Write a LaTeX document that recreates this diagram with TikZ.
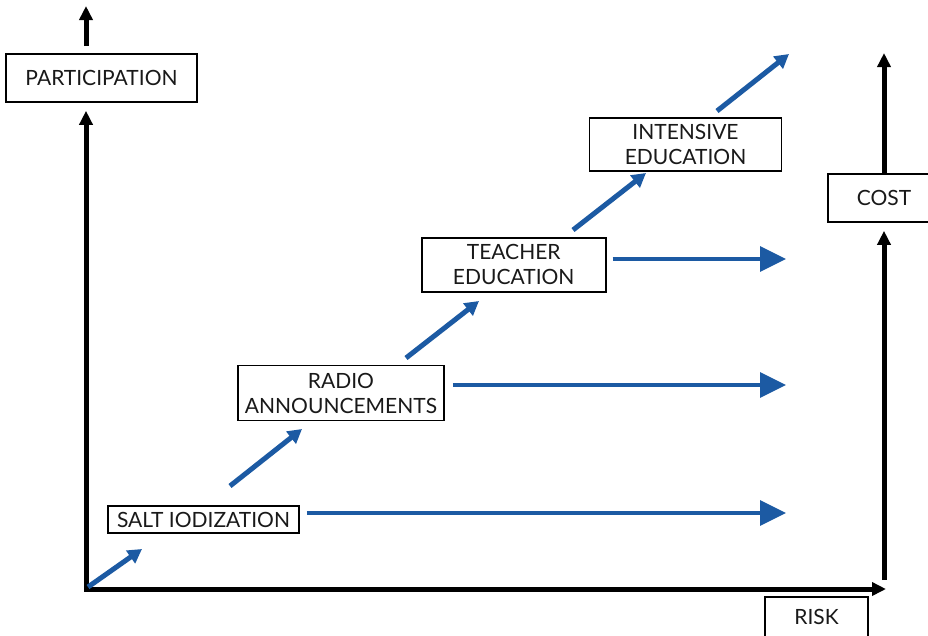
\documentclass[tikz,border=0pt]{standalone}
\usepackage{fontspec}
\setmainfont{Lato}
\usetikzlibrary{arrows.meta}
\definecolor{blu}{HTML}{1C5AA3}
\begin{document}
\begin{tikzpicture}[x=1pt,y=-1pt,
  lbl/.style={draw=black, line width=1.6pt, inner sep=0pt, align=center,
    font=\fontsize{21}{25}\selectfont, text=black!90},
  axis/.style={line width=5pt, draw=black, line cap=rect},
  axarrow/.style={line width=5pt, draw=black, -{Triangle[length=14pt,width=13pt]}},
  hblue/.style={line width=3.5pt, draw=blu, -{Triangle[length=26pt,width=25pt]}},
  dblue/.style={line width=5pt, draw=blu, -{Triangle[length=14pt,width=15pt]}}]
\useasboundingbox (0,0) rectangle (928,635);
\clip (0,0) rectangle (928,635);
\fill[white] (0,0) rectangle (928,635);
% boxes
\node[lbl, minimum width=191pt, minimum height=48pt] (part) at (101.5,78) {PARTICIPATION};
\node[lbl, minimum width=191pt, minimum height=27pt] (salt) at (203.5,519.5) {SALT IODIZATION};
\node[lbl, minimum width=206pt, minimum height=55pt] (radio) at (341,393) {RADIO\\ANNOUNCEMENTS};
\node[lbl, minimum width=184pt, minimum height=54pt] (teacher) at (513.7,264.7) {TEACHER\\EDUCATION};
\node[lbl, minimum width=192pt, minimum height=53pt] (intensive) at (685.5,144.3) {INTENSIVE\\EDUCATION};
\node[lbl, minimum width=112pt, minimum height=48pt] (cost) at (884,198) {COST};
\node[lbl, minimum width=103pt, minimum height=40pt] (risk) at (816.5,617) {RISK};
% axes
\coordinate (O) at (86,589);
\coordinate (xtip) at (886,589);
\coordinate (ytop) at (86,6);
\coordinate (rbase) at (884,580);
\coordinate (rtop) at (884,53);
\draw[axis] (O) -- ([xshift=-12pt]xtip);
\draw[axarrow] (O) -- ([yshift=-8pt]O |- part.south);
\draw[axis] (O) -- (86,560);
\draw[axarrow, shorten <=7pt] (O |- part.north) -- (ytop);
\draw[axarrow] ([xshift=-14pt]xtip) -- (xtip);
\draw[axarrow] (rbase) -- ([yshift=-8pt]rbase |- cost.south);
\draw[axarrow] (rbase |- cost.north) -- (rtop);
% horizontal blue arrows
\coordinate (h1) at (786,513);
\coordinate (h2) at (786,385);
\coordinate (h3) at (786,259);
\draw[hblue, shorten <=7pt] (salt.east |- h1) -- (h1);
\draw[hblue, shorten <=8pt] (radio.east |- h2) -- (h2);
\draw[hblue, shorten <=6pt] (teacher.east |- h3) -- (h3);
% diagonal blue arrows
\coordinate (d1s) at (88,587);  \coordinate (d1e) at (142,549);
\coordinate (d2s) at (230,486); \coordinate (d2e) at (302,429);
\coordinate (d3s) at (406,358); \coordinate (d3e) at (479,301);
\coordinate (d4s) at (573,230); \coordinate (d4e) at (646,173);
\coordinate (d5s) at (717,111); \coordinate (d5e) at (789,54);
\draw[dblue] (d1s) -- (d1e);
\draw[dblue] (d2s) -- (d2e);
\draw[dblue] (d3s) -- (d3e);
\draw[dblue] (d4s) -- (d4e);
\draw[dblue] (d5s) -- (d5e);
\end{tikzpicture}
\end{document}
